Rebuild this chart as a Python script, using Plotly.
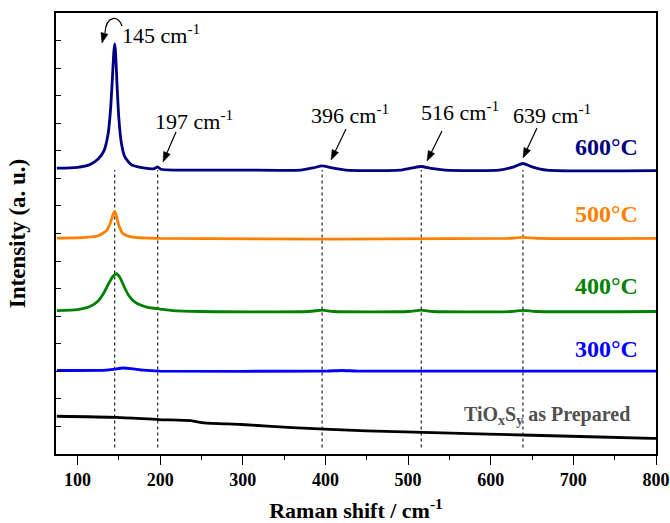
import math
import plotly.graph_objects as go

# ---- data ----
x_600 = [75, 100, 115, 125, 132, 137, 140, 142, 144, 145, 146, 148, 150, 153, 157, 165, 180, 193, 197, 201,
         220, 300, 370, 385, 396, 408, 425, 490, 505, 516, 528, 545, 610, 628, 639, 650, 668, 800]
y_600 = [10.37, 10.40, 10.50, 10.70, 11.0, 11.6, 12.5, 13.5, 14.6, 14.88, 14.6, 13.3, 12.2, 11.3, 10.8, 10.5,
         10.38, 10.35, 10.42, 10.33, 10.30, 10.30, 10.30, 10.38, 10.45, 10.38, 10.30, 10.30, 10.38, 10.43,
         10.36, 10.30, 10.30, 10.42, 10.54, 10.42, 10.30, 10.28]

x_500 = [75, 110, 125, 135, 140, 143, 145, 147, 150, 155, 165, 200, 620, 639, 660, 800]
y_500 = [7.83, 7.86, 7.92, 8.10, 8.40, 8.70, 8.80, 8.65, 8.30, 8.00, 7.88, 7.82, 7.82, 7.86, 7.82, 7.82]

x_400 = [75, 100, 115, 125, 132, 138, 143, 147, 151, 156, 162, 170, 185, 200, 215, 250, 380, 396, 410,
         500, 516, 530, 625, 639, 655, 800]
y_400 = [5.20, 5.24, 5.35, 5.55, 5.85, 6.20, 6.45, 6.54, 6.42, 6.10, 5.75, 5.50, 5.32, 5.26, 5.20, 5.17,
         5.17, 5.22, 5.17, 5.17, 5.22, 5.17, 5.17, 5.21, 5.17, 5.17]

x_300 = [75, 135, 145, 155, 165, 180, 200, 400, 420, 440, 800]
y_300 = [3.03, 3.04, 3.08, 3.12, 3.10, 3.04, 3.01, 3.01, 3.03, 3.01, 3.01]

x_prep = [75, 147, 198, 237, 253, 298, 360, 450, 541, 650, 795, 800]
y_prep = [1.37, 1.33, 1.25, 1.21, 1.13, 1.07, 0.96, 0.84, 0.77, 0.68, 0.57, 0.57]

peak_positions = [145, 197, 396, 516, 639]
peak_labels = ["145", "197", "396", "516", "639"]
series_labels = ["600°C", "500°C", "400°C", "300°C"]
series_colors = ["#000080", "#FF8000", "#008000", "#0000FF"]

FONT = "Liberation Serif, Times New Roman, serif"

# ---- layout geometry (pixels) ----
W, H = 670, 523
L, R, T, B = 56, 14, 13, 69
XR = [74, 800]
YR = [0, 16]
PW, PH = W - L - R, H - T - B


def px2x(px):
    return XR[0] + (px - L) / PW * (XR[1] - XR[0])


def py2y(py):
    return YR[0] + (T + PH - py) / PH * (YR[1] - YR[0])


def arrow_shapes(tail, tip, hl=10, hw=3.6, lw=1.2, with_line=True):
    """line + filled triangle head, given pixel positions"""
    dx, dy = tip[0] - tail[0], tip[1] - tail[1]
    d = math.hypot(dx, dy)
    ux, uy = dx / d, dy / d
    bx, by = tip[0] - ux * hl, tip[1] - uy * hl
    nx, ny = -uy, ux
    p1 = (bx + nx * hw, by + ny * hw)
    p2 = (bx - nx * hw, by - ny * hw)
    tri = "M {},{} L {},{} L {},{} Z".format(px2x(tip[0]), py2y(tip[1]), px2x(p1[0]), py2y(p1[1]),
                                            px2x(p2[0]), py2y(p2[1]))
    out = []
    if with_line:
        out.append(dict(type="line", xref="x", yref="y", x0=px2x(tail[0]), y0=py2y(tail[1]),
                        x1=px2x(bx + ux * 1), y1=py2y(by + uy * 1), line=dict(color="black", width=lw)))
    out.append(dict(type="path", xref="x", yref="y", path=tri, fillcolor="black",
                    line=dict(color="black", width=0.5)))
    return out


fig = go.Figure()

# dotted guide lines at peak positions
for p in peak_positions:
    fig.add_trace(go.Scatter(x=[p, p], y=[0.24, 10.3], mode="lines",
                             line=dict(color="#333333", width=1.3, dash="dot"),
                             hoverinfo="skip", showlegend=False))

for xs, ys, c in [(x_prep, y_prep, "#000000"), (x_300, y_300, series_colors[3]),
                  (x_400, y_400, series_colors[2]), (x_500, y_500, series_colors[1]),
                  (x_600, y_600, series_colors[0])]:
    fig.add_trace(go.Scatter(x=xs, y=ys, mode="lines",
                             line=dict(color=c, width=2.8, shape="spline", smoothing=0.6),
                             showlegend=False))

ann = []
# peak text labels (pixel centres)
label_px = [(161, 34), (194, 120), (350, 114), (460, 111), (552, 114)]
for (lx, ly), t in zip(label_px, peak_labels):
    ann.append(dict(x=px2x(lx), y=py2y(ly), text=f"{t} cm<sup>-1</sup>", showarrow=False,
                    font=dict(family=FONT, size=22, color="black"), xanchor="center", yanchor="middle"))

shapes = []
arrows_px = [((176, 132), (163, 162)), ((346, 129), (331, 160)), ((442, 131), (427, 161)),
             ((537, 128), (523, 158))]
for tail, tip in arrows_px:
    shapes += arrow_shapes(tail, tip)

# curved arrow for the 145 peak
cpts = [(122, 26), (119, 15), (106, 15), (105, 33)]
cpath = "M {},{} C {},{} {},{} {},{}".format(*[v for p in cpts for v in (px2x(p[0]), py2y(p[1]))])
shapes.append(dict(type="path", xref="x", yref="y", path=cpath, line=dict(color="black", width=1.2)))
shapes += arrow_shapes((105, 31), (102, 43), with_line=False)

# temperature labels
temp_py = [146.5, 213.5, 286, 348.5]
for t, c, ty in zip(series_labels, series_colors, temp_py):
    ann.append(dict(x=px2x(640), y=py2y(ty), text=f"<b>{t}</b>", showarrow=False, xanchor="right",
                    yanchor="middle", font=dict(family=FONT, size=24, color=c)))
ann.append(dict(x=px2x(632), y=py2y(415), text="<b>TiO<sub>x</sub>S<sub>y</sub> as Prepared</b>",
                showarrow=False, xanchor="right", yanchor="middle",
                font=dict(family=FONT, size=20, color="#505050")))

fig.update_layout(
    width=W, height=H,
    margin=dict(l=L, r=R, t=T, b=B),
    paper_bgcolor="white", plot_bgcolor="white",
    annotations=ann, shapes=shapes,
    font=dict(family=FONT, color="black"),
)
fig.update_xaxes(range=XR, showgrid=False, zeroline=False, automargin=False,
                 showline=True, linecolor="black", linewidth=1.5, mirror=True,
                 ticks="outside", ticklen=9, tickwidth=1.3, tickcolor="black", dtick=100, tick0=0,
                 minor=dict(ticks="outside", ticklen=4, tickwidth=1.3, tickcolor="black", dtick=50, tick0=0),
                 ticklabelstandoff=0,
                 tickfont=dict(family=FONT, size=18, color="black"), tickprefix="<b>", ticksuffix="</b>",
                 title=dict(text="<b>Raman shift / cm<sup>-1</sup></b>", font=dict(family=FONT, size=22),
                            standoff=22))
fig.update_yaxes(range=YR, showgrid=False, zeroline=False, automargin=False,
                 showline=True, linecolor="black", linewidth=1.5, mirror=True,
                 ticks="inside", ticklen=5, tickwidth=1.3, tickcolor="black", dtick=1, tick0=0,
                 showticklabels=False,
                 title=dict(text="<b>Intensity (a. u.)</b>", font=dict(family=FONT, size=23), standoff=22))

fig.write_html("out.html")
